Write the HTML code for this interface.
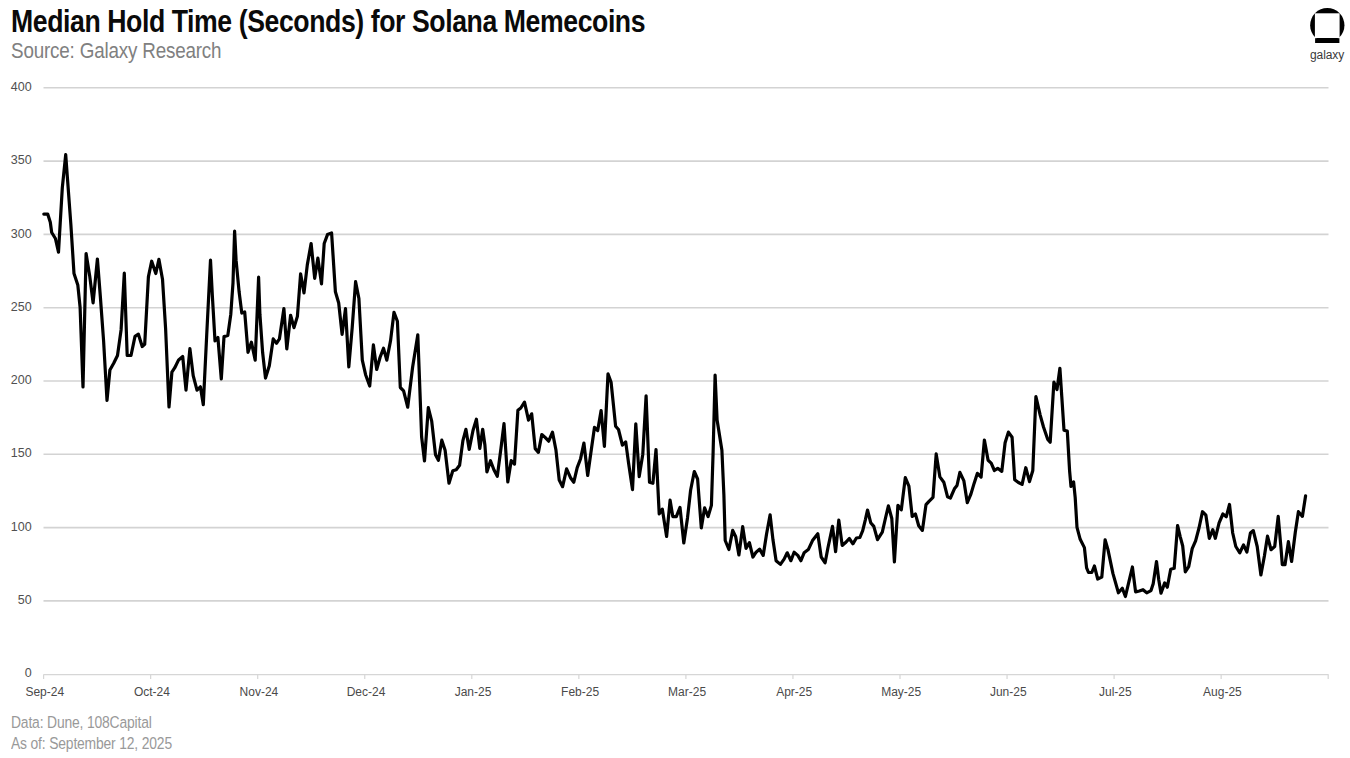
<!DOCTYPE html>
<html><head><meta charset="utf-8">
<style>
html,body{margin:0;padding:0;background:#fff;}
body{width:1350px;height:758px;overflow:hidden;position:relative;font-family:"Liberation Sans",sans-serif;}
.title{position:absolute;left:11px;top:3px;font-size:31.5px;font-weight:bold;color:#0a0a0a;white-space:nowrap;letter-spacing:-0.5px;line-height:36px;transform-origin:0 0;transform:scaleX(0.846);}
.sub{position:absolute;left:11px;top:38px;font-size:22px;color:#808080;white-space:nowrap;letter-spacing:-0.2px;line-height:26px;transform-origin:0 0;transform:scaleX(0.855);}
.yl{position:absolute;left:0;width:31.6px;text-align:right;font-size:12.5px;color:#505050;line-height:16px;}
.xl{position:absolute;top:684px;width:80px;text-align:center;font-size:12px;color:#4a4a4a;line-height:16px;}
.foot{position:absolute;left:11px;font-size:16.8px;color:#999;white-space:nowrap;letter-spacing:-0.2px;line-height:20px;transform-origin:0 0;transform:scaleX(0.827);}
.gtxt{position:absolute;left:1310px;top:47px;font-size:12.5px;color:#3a3a3a;letter-spacing:-0.1px;line-height:16px;transform-origin:0 0;transform:scaleX(0.96);}
svg{position:absolute;left:0;top:0;}
</style></head><body>
<svg width="1350" height="758" viewBox="0 0 1350 758">
<g stroke="#d3d3d3" stroke-width="1.6">
<line x1="43.5" y1="87.80" x2="1328.5" y2="87.80" />
<line x1="43.5" y1="161.10" x2="1328.5" y2="161.10" />
<line x1="43.5" y1="234.40" x2="1328.5" y2="234.40" />
<line x1="43.5" y1="307.70" x2="1328.5" y2="307.70" />
<line x1="43.5" y1="381.00" x2="1328.5" y2="381.00" />
<line x1="43.5" y1="454.30" x2="1328.5" y2="454.30" />
<line x1="43.5" y1="527.60" x2="1328.5" y2="527.60" />
<line x1="43.5" y1="600.90" x2="1328.5" y2="600.90" />
</g>
<g stroke="#d6d6d6" stroke-width="1.2">
<line x1="43.5" y1="674.6" x2="1328.5" y2="674.6" />
<line x1="43.60" y1="674.6" x2="43.60" y2="679.1" />
<line x1="150.65" y1="674.6" x2="150.65" y2="679.1" />
<line x1="257.70" y1="674.6" x2="257.70" y2="679.1" />
<line x1="364.75" y1="674.6" x2="364.75" y2="679.1" />
<line x1="471.80" y1="674.6" x2="471.80" y2="679.1" />
<line x1="578.85" y1="674.6" x2="578.85" y2="679.1" />
<line x1="685.90" y1="674.6" x2="685.90" y2="679.1" />
<line x1="792.95" y1="674.6" x2="792.95" y2="679.1" />
<line x1="900.00" y1="674.6" x2="900.00" y2="679.1" />
<line x1="1007.05" y1="674.6" x2="1007.05" y2="679.1" />
<line x1="1114.10" y1="674.6" x2="1114.10" y2="679.1" />
<line x1="1221.15" y1="674.6" x2="1221.15" y2="679.1" />
<line x1="1328.20" y1="674.6" x2="1328.20" y2="679.1" />
</g>
<polyline fill="none" stroke="#000" stroke-width="3.2" stroke-linejoin="round" stroke-linecap="round" points="43.8,214.1 47.7,214.1 50.3,222.2 51.7,232.5 55.4,238.5 58.5,252.2 62.3,187.9 65.7,154.6 67.4,177.6 70.9,225 74,273.6 77.8,284.9 80.1,307.3 83,386.9 86.1,253.5 89.7,275.9 93.1,302.8 97.4,259 100.3,296 103.6,341 107,400.3 109.9,370 113.7,363.3 117.5,355.5 121.1,329.7 124.3,273.2 127.2,355.5 131,355.5 135,336.4 138.4,334.2 142.2,346.5 144.7,344.3 148.4,276.9 151.7,261.2 155.8,273.5 158.9,259.4 162.5,279.2 165.6,328.5 169,407 171.9,372.2 174.8,367.7 178.6,359.9 182.7,356.5 186,390.2 189.9,348.7 193.2,375.6 197,390.2 200.4,386.8 203.3,404.7 206.7,335.2 210.5,260.1 212.3,294.9 215,340.8 217.9,337.5 221.3,379 224,336.6 227.8,335.5 230.8,314.2 233,282.8 234.6,231.2 236.1,260.4 239.1,291.8 241.8,313.1 244.7,312 248,352.3 251.4,342.2 255.2,360.2 258.6,277.2 259.9,314.2 262.6,352.3 265.5,378.1 269.3,365.8 273.2,338.9 276.5,343.3 279.4,338.9 283.9,308.6 286.8,349 290.6,315.3 294,327.6 297.4,316.4 300.6,273.8 304,292.9 307.3,264.9 311.1,243.5 314.7,278.3 317.9,258.1 321.5,283.9 324.2,243.5 327.5,234.6 331.6,233 335.4,291.8 338.7,303 342.1,334.4 345.5,308.6 348.8,366.9 352.2,327.6 355.6,281.7 358.9,298.5 362.3,360.2 365.6,374.7 369.7,386 373.4,344.9 376.7,369.5 380.1,357.2 383.5,348.2 386.8,360.1 390.6,340.4 394,312.3 397.4,321.3 400.3,387.5 403.6,390.8 407.7,407.2 412.6,367.3 417.8,334.8 419.8,387.5 421.6,436.8 424.5,461 428.3,407.6 431.7,421.1 435.5,454.7 438.4,460.3 441.8,440.2 445.1,450.3 449,483.2 452.8,470.8 456.2,469.7 459.6,465.2 462.9,440.6 465.9,429.3 469.2,449.5 473,430.5 476.4,419.2 479.8,448.4 482.7,429.3 484.9,445 486.9,471.9 490.5,460.7 493.9,469.7 497.3,476.4 501.1,447.3 504,423.7 506,454 507.8,482 511.2,460.7 514.5,464.1 517.9,410.3 520.8,408 524.5,402.2 528.5,420.1 531.7,413.8 535.2,448.6 538.4,452.4 541.8,434.5 545.1,437.4 548.7,441.2 552.5,432.2 555.9,449.7 559.2,480 562.6,486.7 566.6,468.8 570.5,477.7 573.8,482.2 577.2,467.6 580.6,458.7 583.9,443 587.7,475.5 591.3,449.7 594.5,427.3 597.7,430.6 601.1,410.5 604.4,446.3 608,373.9 611.1,382.4 615.6,426.2 618.5,429.5 622.4,445.2 625.7,441.9 628.6,463.2 632.5,489.6 635.8,423.9 639.2,476.6 642.8,454.2 646.1,395.9 649.5,482.2 652.9,483.3 656,449.7 659.2,513.8 662.3,509.1 666.6,536.5 670.1,500.2 672.8,516.6 676.3,516.6 680,507.4 683.8,543 687.5,517.9 690.6,490.3 694.3,471.5 697.6,479 701.3,527.9 704.6,507.9 708.1,516.6 711.4,505.4 713.1,452.7 715.1,375 717.1,420.1 721.9,450.2 723.9,495.3 725.2,540.5 728.9,549.5 732.7,530.4 735.7,536.7 738.9,555 742.7,526.7 746,548.3 749.4,542.7 752.9,557 756.1,552.2 759.6,549.1 763.2,555.4 766.6,533.8 770.1,514.8 773,540.1 776.1,560.7 780.4,564.4 784.1,559.1 787.2,552.8 790.9,560.7 794.1,552.2 797.8,555.4 800.9,560.7 804.1,552.8 808.3,549.6 812.5,540.6 817.8,533.8 821.2,557 825.1,562.8 827.9,548 832.5,526.4 835.6,551.7 838.8,520.1 842.2,545.4 845.3,542.8 849.3,538.5 852.9,543.8 856.4,538 859.9,537.5 862.7,530.6 865.4,519.6 867.5,510 870.7,522.7 873.8,526.4 877.5,539.6 882.3,532.2 885.4,518.5 888.4,505.8 891.8,518.5 894.4,561.8 897.9,505.3 901.3,509.9 905.3,477.6 908.9,486.2 912.2,516.5 915.4,513.9 918.7,525.8 922.4,530.4 926,504.6 929,501.3 933,497.4 936.2,453.9 939.9,476.9 943.8,482.2 947.5,496.7 950.4,498 954.4,488.8 957,485.5 959.9,472.3 963.9,480.9 967.3,502.7 970.9,494.1 974.1,483.4 977.4,473.3 981.1,477 984.4,440 988.1,460.3 991.2,463.1 994.4,470.5 997.7,468.3 1001.8,471.4 1005.1,442.8 1008.4,432.1 1012.1,437.3 1014.7,479.7 1018.4,482.5 1022.1,484.4 1025.8,467.7 1029.5,481.6 1032.8,470.5 1035.9,396.6 1040.2,415.1 1043.5,427 1047.6,439.1 1050.2,442.2 1053.9,382.2 1057,389.6 1059.9,368.3 1061.8,396.9 1064,430.2 1067.3,431.1 1069.6,470.8 1071,486.5 1073.6,481.9 1075.2,497.7 1077,527.3 1080.2,539.3 1084.4,547.6 1086.6,567.9 1088.5,572.5 1091.8,572.5 1094.4,566 1097.7,579 1101.8,577.1 1105.1,539.8 1107.9,549.4 1112.9,573.4 1118.4,592.8 1122.3,588.2 1125.4,596.5 1129.1,580.8 1132.4,567 1135.6,591.9 1139.3,591 1143,589.7 1146.7,592.8 1151,590.6 1153.2,583.8 1156.5,561.5 1158.7,579.5 1161,593.2 1164.7,582.9 1167.3,587.2 1170.7,569.2 1174.2,568.3 1177.6,525.5 1180.2,536.6 1182.7,546 1185.3,571.8 1188.7,566.6 1192.2,548.6 1195.6,540.9 1199,528 1202.5,511.7 1205.9,515.2 1209.3,538.3 1212.8,529.7 1215.3,538.3 1219.1,522.9 1222.9,514 1226.3,516.7 1229.5,504.5 1232.7,533 1235.8,546.5 1239.8,552.8 1243.5,544.9 1246.9,552 1250.4,533 1253.3,530.6 1257.2,546.5 1260.9,575 1264.4,556 1267.5,536.2 1271,549.7 1274.7,546.5 1278.2,516.4 1281,548.1 1282.3,564.7 1285,564.7 1288.4,541.7 1291.6,561.5 1295.3,532.2 1298.4,511.7 1302.4,516.4 1305.6,495.8" />
<g>
<circle cx="1327.3" cy="25.2" r="17.15" fill="#000"/>
<rect x="1314.9" y="13.3" width="24.7" height="24.7" fill="#fff"/>
<rect x="1315.1" y="38.2" width="24.3" height="4.8" fill="#000"/>
</g>
</svg>
<div class="title">Median Hold Time (Seconds) for Solana Memecoins</div>
<div class="sub">Source: Galaxy Research</div>
<div class="yl" style="top:78.9px">400</div>
<div class="yl" style="top:152.2px">350</div>
<div class="yl" style="top:225.5px">300</div>
<div class="yl" style="top:298.8px">250</div>
<div class="yl" style="top:372.1px">200</div>
<div class="yl" style="top:445.4px">150</div>
<div class="yl" style="top:518.7px">100</div>
<div class="yl" style="top:592.0px">50</div>
<div class="yl" style="top:665.3px">0</div>
<div class="xl" style="left:4.8px">Sep-24</div>
<div class="xl" style="left:111.9px">Oct-24</div>
<div class="xl" style="left:218.9px">Nov-24</div>
<div class="xl" style="left:326.0px">Dec-24</div>
<div class="xl" style="left:433.0px">Jan-25</div>
<div class="xl" style="left:540.1px">Feb-25</div>
<div class="xl" style="left:647.1px">Mar-25</div>
<div class="xl" style="left:754.2px">Apr-25</div>
<div class="xl" style="left:861.2px">May-25</div>
<div class="xl" style="left:968.3px">Jun-25</div>
<div class="xl" style="left:1075.3px">Jul-25</div>
<div class="xl" style="left:1182.4px">Aug-25</div>

<div class="foot" style="top:713px">Data: Dune, 108Capital</div>
<div class="foot" style="top:734px">As of: September 12, 2025</div>
<div class="gtxt">galaxy</div>
</body></html>
